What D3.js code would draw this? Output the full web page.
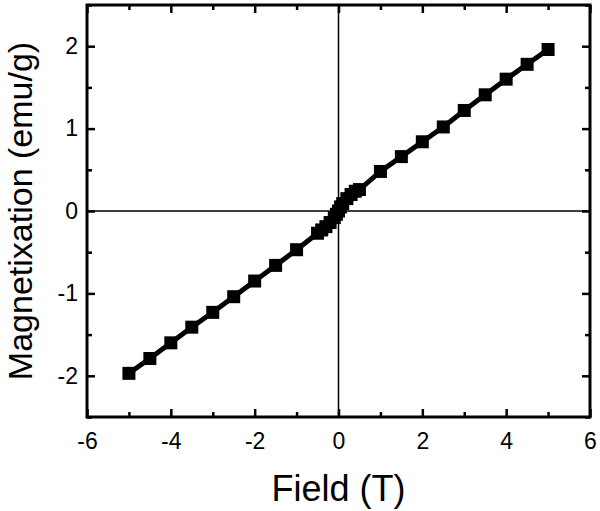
<!DOCTYPE html>
<html>
<head>
<meta charset="utf-8">
<script src="https://cdn.jsdelivr.net/npm/d3@7"></script>
<style>
  body { margin: 0; background: #fff; }
  svg { display: block; font-family: "Liberation Sans", Arial, sans-serif; }
</style>
</head>
<body>
<div id="chart"></div>
<script>
// field values (T) and magnetization (emu/g)
const field = [-5, -4.5, -4, -3.5, -3, -2.5, -2, -1.5, -1, -0.5,
    -0.4, -0.3, -0.2, -0.1, -0.05, 0, 0.05, 0.1, 0.2, 0.3, 0.4,
    0.5, 1, 1.5, 2, 2.5, 3, 3.5, 4, 4.5, 5];
const magnetization = [-1.97, -1.79, -1.60, -1.41, -1.23, -1.04, -0.85, -0.66, -0.47, -0.27,
    -0.23, -0.19, -0.14, -0.08, -0.04, 0.0, 0.05, 0.09, 0.15, 0.20, 0.24,
    0.26, 0.48, 0.66, 0.84, 1.02, 1.22, 1.41, 1.60, 1.78, 1.96];

const xTicks = [-6, -4, -2, 0, 2, 4, 6];
const xMinor = [-5, -3, -1, 1, 3, 5];
const yTicks = [-2, -1, 0, 1, 2];
const yMinor = [-2.5, -1.5, -0.5, 0.5, 1.5, 2.5];

const data = field.map((f, i) => ({x: f, y: magnetization[i]}));

const config = {
    width: 600,
    height: 511,
    margin: {top: 5, right: 10, bottom: 94, left: 87}
};
const innerW = config.width - config.margin.left - config.margin.right;
const innerH = config.height - config.margin.top - config.margin.bottom;

const svg = d3.select("#chart").append("svg")
    .attr("width", config.width)
    .attr("height", config.height);

const g = svg.append("g")
    .attr("transform", `translate(${config.margin.left},${config.margin.top})`);

const x = d3.scaleLinear().domain([-6, 6]).range([0, innerW]);
const y = d3.scaleLinear().domain([-2.5, 2.5]).range([innerH, 0]);

const fmt = d => String(d);

// zero lines
g.append("line")
    .attr("x1", x(0)).attr("x2", x(0))
    .attr("y1", 0).attr("y2", innerH)
    .attr("stroke", "#000").attr("stroke-width", 1.5);
g.append("line")
    .attr("x1", 0).attr("x2", innerW)
    .attr("y1", y(0)).attr("y2", y(0))
    .attr("stroke", "#000").attr("stroke-width", 1.5);

// ticks pointing inward, major + minor, mirrored on all sides
g.append("g").attr("transform", `translate(0,${innerH})`)
    .call(d3.axisBottom(x).tickValues(xTicks).tickSize(-8).tickPadding(16).tickFormat(fmt));
g.append("g").attr("transform", `translate(0,${innerH})`)
    .call(d3.axisBottom(x).tickValues(xMinor).tickSize(-5).tickFormat(""));
g.append("g")
    .call(d3.axisTop(x).tickValues(xTicks).tickSize(-8).tickFormat(""));
g.append("g")
    .call(d3.axisTop(x).tickValues(xMinor).tickSize(-5).tickFormat(""));

g.append("g")
    .call(d3.axisLeft(y).tickValues(yTicks).tickSize(-8).tickPadding(9).tickFormat(fmt));
g.append("g")
    .call(d3.axisLeft(y).tickValues(yMinor).tickSize(-5).tickFormat(""));
g.append("g").attr("transform", `translate(${innerW},0)`)
    .call(d3.axisRight(y).tickValues(yTicks).tickSize(-8).tickFormat(""));
g.append("g").attr("transform", `translate(${innerW},0)`)
    .call(d3.axisRight(y).tickValues(yMinor).tickSize(-5).tickFormat(""));

g.selectAll(".domain").remove();
g.selectAll(".tick line").attr("stroke", "#000").attr("stroke-width", 2.5);
g.selectAll(".tick text")
    .attr("fill", "#000")
    .style("font-size", "23px");

// frame
g.append("rect")
    .attr("width", innerW).attr("height", innerH)
    .attr("fill", "none")
    .attr("stroke", "#000")
    .attr("stroke-width", 3);

// data line + square markers
const line = d3.line().x(d => x(d.x)).y(d => y(d.y));
g.append("path")
    .datum(data)
    .attr("d", line)
    .attr("fill", "none")
    .attr("stroke", "#000")
    .attr("stroke-width", 5);

g.selectAll(".pt")
    .data(data)
    .enter()
    .append("rect")
    .attr("class", "pt")
    .attr("x", d => x(d.x) - 6.5)
    .attr("y", d => y(d.y) - 6.5)
    .attr("width", 13)
    .attr("height", 13)
    .attr("fill", "#000");

// axis titles
svg.append("text")
    .attr("x", config.margin.left + x(0))
    .attr("y", 501)
    .attr("text-anchor", "middle")
    .style("font-size", "36px")
    .text("Field (T)");

svg.append("text")
    .attr("transform", `translate(32,${config.margin.top + y(0)}) rotate(-90)`)
    .attr("text-anchor", "middle")
    .style("font-size", "34px")
    .text("Magnetixation (emu/g)");
</script>
</body>
</html>
